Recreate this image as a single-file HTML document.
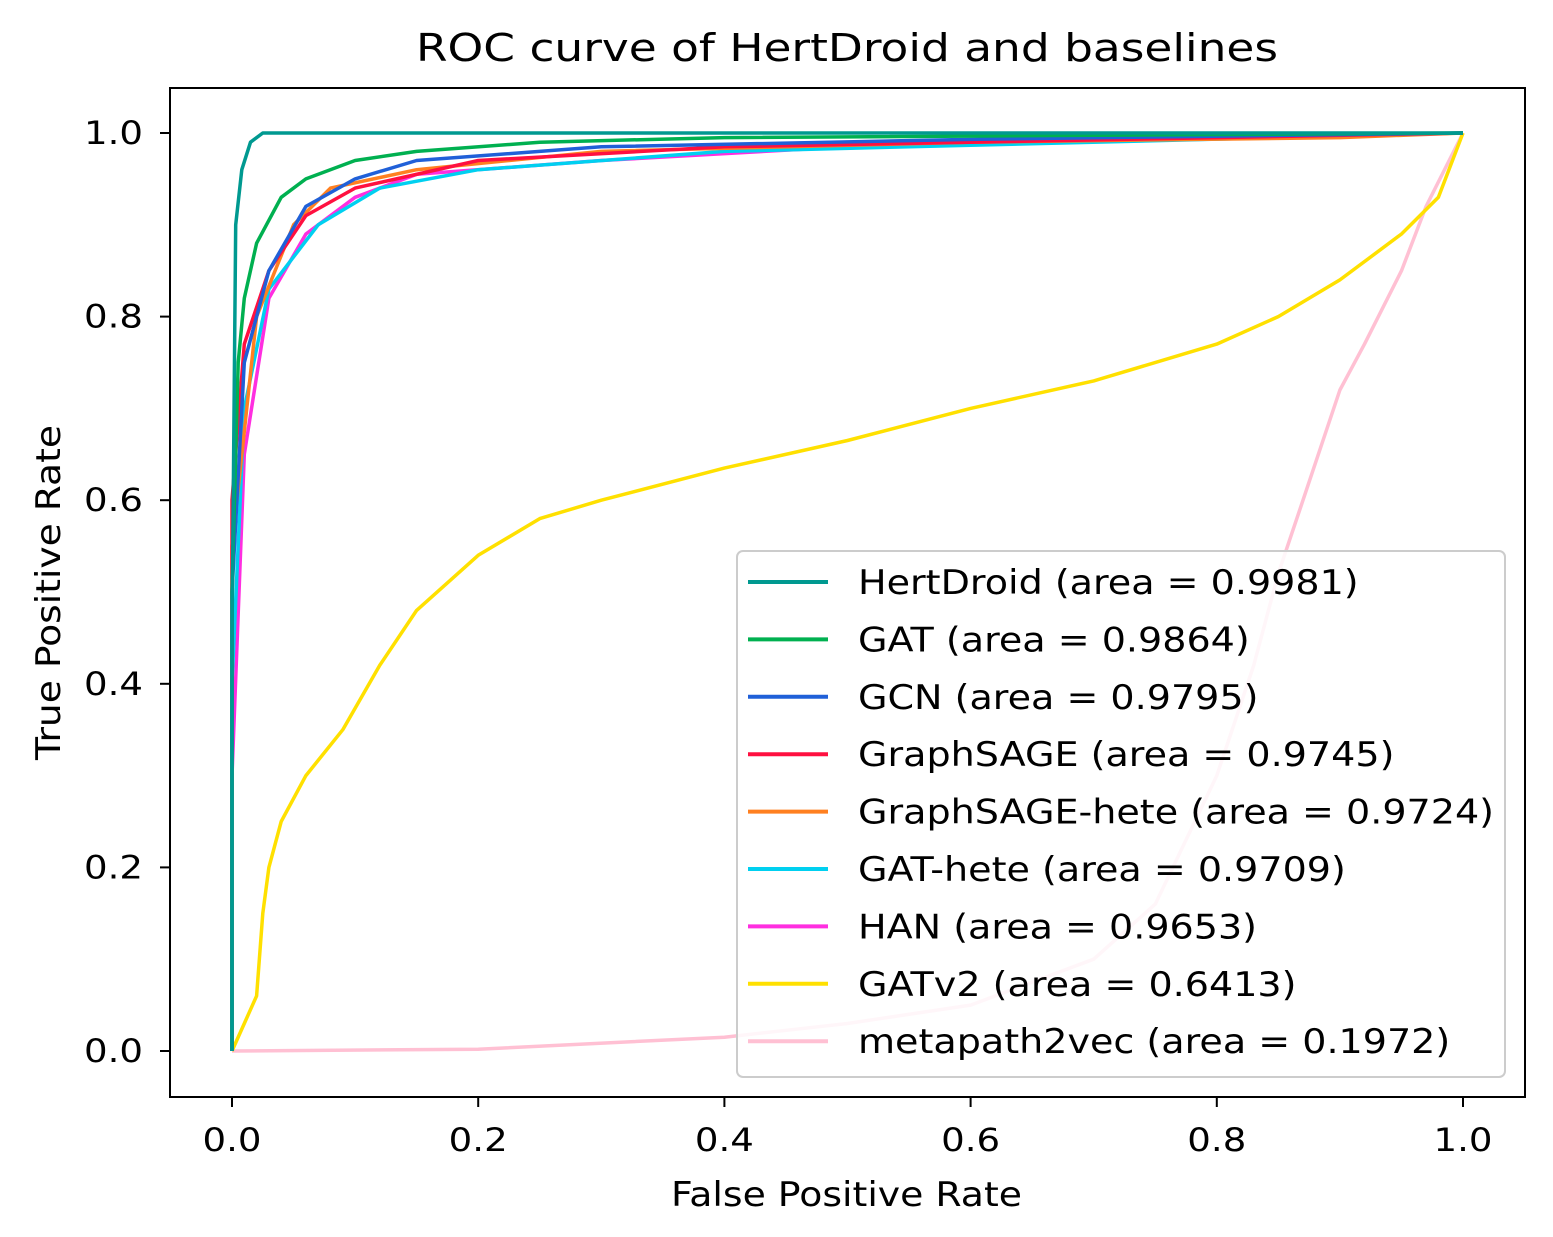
<!DOCTYPE html>
<html><head><meta charset="utf-8"><style>
html,body{margin:0;padding:0;background:#fff;}
svg{display:block;font-family:"DejaVu Sans","Liberation Sans",sans-serif;}
</style></head><body>
<svg id="s" width="1553" height="1237" xmlns="http://www.w3.org/2000/svg">
<rect width="1553" height="1237" fill="#fff"/>
<text x="416" y="61" font-size="38" textLength="862" lengthAdjust="spacingAndGlyphs" fill="#000">ROC curve of HertDroid and baselines</text>
<g id="curves" fill="none" stroke-width="3.5" stroke-linejoin="round"></g>
<rect x="170" y="88" width="1355" height="1009" fill="none" stroke="#000" stroke-width="2"/>
<g id="ticks" stroke="#000" stroke-width="2"></g>
<g id="tl" font-size="32" fill="#000"></g>
<text x="671" y="1206" font-size="34" textLength="351" lengthAdjust="spacingAndGlyphs">False Positive Rate</text>
<text transform="translate(60,760) rotate(-90)" font-size="34" textLength="335" lengthAdjust="spacingAndGlyphs">True Positive Rate</text>
<rect x="737" y="551" width="768" height="526" rx="6" fill="#fff" fill-opacity="0.85" stroke="#ccc" stroke-width="2"/>
<g id="leg" fill="#000"></g>
</svg>
<script>
var fx=function(x){return 232+1231*x}, fy=function(y){return 1051-918*y};
var S=[
["metapath2vec (area = 0.1972)","#ffc0d3",[[0,0],[0.2,0.002],[0.4,0.015],[0.5,0.03],[0.6,0.05],[0.7,0.1],[0.75,0.16],[0.8,0.3],[0.83,0.42],[0.85,0.52],[0.87,0.6],[0.9,0.72],[0.92,0.77],[0.95,0.85],[0.97,0.92],[1,1]]],
["GATv2 (area = 0.6413)","#ffe000",[[0,0],[0.01,0.03],[0.02,0.06],[0.025,0.15],[0.03,0.2],[0.04,0.25],[0.06,0.3],[0.09,0.35],[0.12,0.42],[0.15,0.48],[0.2,0.54],[0.25,0.58],[0.3,0.6],[0.4,0.635],[0.5,0.665],[0.6,0.7],[0.7,0.73],[0.8,0.77],[0.85,0.8],[0.9,0.84],[0.95,0.89],[0.98,0.93],[1,1]]],
["HAN (area = 0.9653)","#ff2ee0",[[0,0],[0,0.3],[0.01,0.65],[0.03,0.82],[0.06,0.89],[0.1,0.93],[0.15,0.955],[0.3,0.97],[0.5,0.985],[0.8,0.995],[1,1]]],
["GAT-hete (area = 0.9709)","#00d0f0",[[0,0],[0,0.4],[0.01,0.7],[0.03,0.83],[0.07,0.9],[0.12,0.94],[0.2,0.96],[0.4,0.98],[1,1]]],
["GraphSAGE-hete (area = 0.9724)","#ff8020",[[0,0],[0,0.55],[0.02,0.8],[0.05,0.9],[0.08,0.94],[0.15,0.96],[0.3,0.98],[0.6,0.99],[0.9,0.995],[1,1]]],
["GraphSAGE (area = 0.9745)","#ff1040",[[0,0],[0,0.6],[0.01,0.77],[0.03,0.85],[0.06,0.91],[0.1,0.94],[0.2,0.97],[0.4,0.985],[1,1]]],
["GCN (area = 0.9795)","#2060d8",[[0,0],[0,0.5],[0.01,0.75],[0.03,0.85],[0.06,0.92],[0.1,0.95],[0.15,0.97],[0.3,0.985],[0.6,0.993],[1,1]]],
["GAT (area = 0.9864)","#00b050",[[0,0],[0,0.5],[0.005,0.75],[0.01,0.82],[0.02,0.88],[0.04,0.93],[0.06,0.95],[0.1,0.97],[0.15,0.98],[0.25,0.99],[0.4,0.995],[1,1]]],
["HertDroid (area = 0.9981)","#009990",[[0,0],[0,0.45],[0.003,0.9],[0.008,0.96],[0.015,0.99],[0.025,1],[1,1]]]
];
var ns="http://www.w3.org/2000/svg";
function el(p,t,a,txt){var e=document.createElementNS(ns,t);for(var k in a)e.setAttribute(k,a[k]);if(txt)e.textContent=txt;p.appendChild(e);return e;}
var c=document.getElementById("curves");
S.forEach(function(s){el(c,"polyline",{points:s[2].map(function(p){return fx(p[0]).toFixed(1)+","+fy(p[1]).toFixed(1)}).join(" "),stroke:s[1]});});
var t=document.getElementById("ticks"),tl=document.getElementById("tl");
for(var i=0;i<=5;i++){var v=i/5,x=fx(v),y=fy(v);
el(t,"line",{x1:x,y1:1097,x2:x,y2:1107});el(tl,"text",{x:x-29.5,y:1151,textLength:59,lengthAdjust:"spacingAndGlyphs"},v.toFixed(1));
el(t,"line",{x1:160,y1:y,x2:170,y2:y});el(tl,"text",{x:84,y:y+11,textLength:59,lengthAdjust:"spacingAndGlyphs"},v.toFixed(1));}
var lg=document.getElementById("leg");
S.slice().reverse().forEach(function(s,i){var y=582+57.4*i;
el(lg,"line",{x1:748,y1:y,x2:828,y2:y,stroke:s[1],"stroke-width":4});
el(lg,"text",{x:858,y:y+12,"font-size":34,transform:"translate(858,0) scale(1.12,1) translate(-858,0)"},s[0]);});
</script>
</body></html>
